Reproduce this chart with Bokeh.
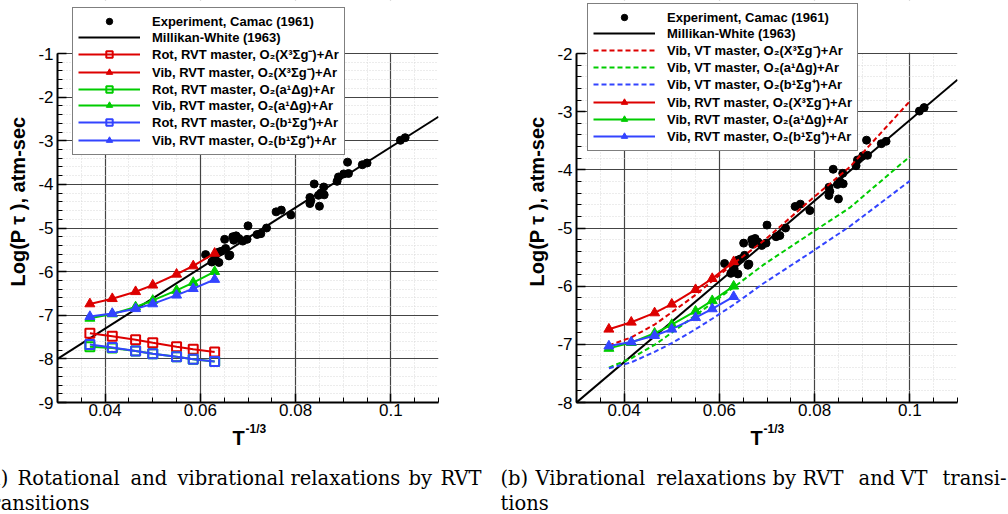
from bokeh.plotting import figure
from bokeh.layouts import row, column
from bokeh.models import (Range1d, Legend, LegendItem, FixedTicker, BoxAnnotation,
                          CustomJSTickFormatter)
from bokeh.core.properties import value
from bokeh.embed import file_html
from bokeh.resources import INLINE

# ---------------- data ----------------
# T^(-1/3) of the RVT master-equation temperatures
x_rvt = [0.0368, 0.0415, 0.0464, 0.0500, 0.0550, 0.0585, 0.0630]
rot_X = [-7.41, -7.48, -7.56, -7.63, -7.72, -7.78, -7.84]
vib_X = [-6.74, -6.62, -6.46, -6.31, -6.06, -5.87, -5.58]
rot_a = [-7.72, -7.75, -7.82, -7.88, -7.95, -8.01, -8.06]
vib_a = [-7.07, -6.97, -6.81, -6.66, -6.43, -6.25, -6.00]
rot_b = [-7.67, -7.74, -7.82, -7.88, -7.95, -8.01, -8.06]
vib_b = [-7.03, -6.96, -6.85, -6.74, -6.54, -6.39, -6.18]

# VT master-equation results
x_vt = [0.0368, 0.0415, 0.0464, 0.0500, 0.0550, 0.0585, 0.0630, 0.0693, 0.0794, 0.0874, 0.1000]
vt_X = [-7.02, -6.88, -6.66, -6.45, -6.15, -5.91, -5.61, -5.22, -4.50, -3.95, -2.82]
vt_a = [-7.40, -7.24, -7.01, -6.80, -6.50, -6.29, -6.02, -5.63, -5.08, -4.65, -3.77]
vt_b = [-7.41, -7.31, -7.13, -6.98, -6.74, -6.56, -6.32, -5.95, -5.41, -4.97, -4.19]

# Millikan-White correlation
mw_x = [0.03, 0.11]
mw_y = [-8.0, -2.45]

# Experiment, Camac (1961)
exp_x = [0.0611, 0.0624, 0.0628, 0.0631, 0.0639, 0.0639, 0.0645, 0.0653, 0.0660,
         0.0651, 0.0662, 0.0668, 0.0675, 0.0670, 0.0681, 0.0689, 0.0698, 0.0700,
         0.0719, 0.0727, 0.0739, 0.0759, 0.0770, 0.0790, 0.0830, 0.0830, 0.0832,
         0.0839, 0.0848, 0.0850, 0.0853, 0.0859, 0.0860, 0.0887, 0.0890, 0.0901,
         0.0911, 0.0909, 0.0940, 0.0950, 0.1020, 0.1030]
exp_y = [-5.61, -5.78, -5.74, -5.70, -5.79, -5.55, -5.53, -5.47, -5.64,
         -5.26, -5.62, -5.20, -5.18, -5.28, -5.24, -5.30, -5.26, -4.95,
         -5.15, -5.13, -5.00, -4.63, -4.59, -4.70, -4.30, -4.44, -4.37,
         -3.99, -4.25, -4.50, -4.20, -4.06, -4.24, -3.93, -3.83, -3.76,
         -3.75, -3.49, -3.55, -3.51, -2.99, -2.93]

x_ticks = [0.04, 0.06, 0.08, 0.1]

lbl_exp = "Experiment, Camac (1961)"
lbl_mw = "Millikan-White (1963)"
sp_X = "O₂(X³Σg⁻)+Ar"
sp_a = "O₂(a¹Δg)+Ar"
sp_b = "O₂(b¹Σg⁺)+Ar"
y_title = "Log(P τ ), atm-sec"
x_title = ["T", "-1/3"]

# sub-captions, word by word (justified lines)
cap_a1 = ["(a)", "Rotational", "and", "vibrational", "relaxations", "by", "RVT"]
cap_a2 = ["transitions"]
cap_b1 = ["(b)", "Vibrational", "relaxations", "by", "RVT", "and", "VT", "transi-"]
cap_b2 = ["tions"]

# ---------------- style / layout ----------------
RED, GREEN, BLUE = "#dd0000", "#00cc00", "#3344ff"
FONT = "Liberation Sans"
SERIF = "DejaVu Serif"
TOP_H = 422          # height of the two plot figures
FRAME_TOP = 53       # page y of the upper data limit
FRAME_BOT = 402      # page y of the lower data limit
# word start positions (page px) for the justified caption lines
pos_a1 = [-19, 17, 130, 177, 290, 408, 440]
pos_b1 = [500, 535, 656, 772, 802, 858, 900, 942]
CAP_Y1, CAP_Y2 = 478, 503
T_Y, SUP_Y = 437, 428


def base_fig(width, left, right, ymin, ymax):
    ppu = (FRAME_BOT - FRAME_TOP) / (ymax - ymin)
    y_top = ymax + FRAME_TOP / ppu          # leave room above for the legend
    p = figure(width=width, height=TOP_H, output_backend="svg", toolbar_location=None,
               title=None,
               x_range=Range1d(0.03, 0.11), y_range=Range1d(ymin, y_top),
               min_border_left=left, min_border_right=right,
               min_border_top=0, min_border_bottom=TOP_H - FRAME_BOT)
    p.outline_line_color = None
    fmt = CustomJSTickFormatter(code="return String(Math.round(tick*1000)/1000)")
    xt = FixedTicker(ticks=x_ticks,
                     minor_ticks=[round(0.03 + 0.005 * i, 4) for i in range(17)])
    yt = FixedTicker(ticks=list(range(ymin, ymax + 1)),
                     minor_ticks=[round(ymin + 0.2 * i, 2) for i in range((ymax - ymin) * 5 + 1)])
    p.xaxis.ticker = xt
    p.yaxis.ticker = yt
    p.xgrid.ticker = xt
    p.ygrid.ticker = yt
    p.yaxis.bounds = (ymin, ymax)
    for ax in (p.xaxis[0], p.yaxis[0]):
        ax.formatter = fmt
        ax.axis_line_width = 2
        ax.axis_line_color = "black"
        ax.major_tick_in = 9
        ax.major_tick_out = 0
        ax.minor_tick_in = 5
        ax.minor_tick_out = 0
        ax.major_tick_line_width = 1.5
        ax.minor_tick_line_width = 1
        ax.major_tick_line_color = "black"
        ax.minor_tick_line_color = "black"
        ax.major_label_text_font = FONT
        ax.major_label_text_font_size = "17px"
        ax.major_label_text_color = "black"
    p.xaxis.major_label_standoff = 1
    p.yaxis.major_label_standoff = 4
    p.yaxis.axis_label = y_title
    p.yaxis.axis_label_text_font = FONT
    p.yaxis.axis_label_text_font_style = "bold"
    p.yaxis.axis_label_text_font_size = "20px"
    p.yaxis.axis_label_text_color = "black"
    p.yaxis.axis_label_standoff = 6
    for g in (p.xgrid[0], p.ygrid[0]):
        g.grid_line_color = "#444444"
        g.grid_line_width = 1.2
        g.minor_grid_line_color = "#d8d8d8"
        g.minor_grid_line_dash = "1 2"
        g.minor_grid_line_width = 1
    # blank out the grid above the upper data limit (legend space)
    p.add_layout(BoxAnnotation(bottom=ymax + 0.8 / ppu, fill_color="white", fill_alpha=1,
                               line_color=None, level="underlay"))
    return p


def style_legend(lg):
    lg.label_text_font = FONT
    lg.label_text_font_style = "bold"
    lg.label_text_font_size = "13px"
    lg.label_text_color = "black"
    lg.glyph_width = 62
    lg.glyph_height = 16
    lg.label_height = 16
    lg.spacing = 0
    lg.padding = 5
    lg.margin = 0
    lg.label_standoff = 12
    lg.border_line_color = "black"
    lg.border_line_width = 1
    lg.background_fill_alpha = 1


# ---------------- left panel ----------------
p1 = base_fig(500, 57, 62, -9, -1)
mw1 = p1.line(mw_x, mw_y, line_color="black", line_width=2)
ex1 = p1.scatter(exp_x, exp_y, marker="circle", size=8, color="black")
items1 = [LegendItem(label=lbl_exp, renderers=[ex1]),
          LegendItem(label=lbl_mw, renderers=[mw1])]
for ys, col, mk, kind, sp in [(rot_X, RED, "square", "Rot", sp_X),
                              (vib_X, RED, "triangle", "Vib", sp_X),
                              (rot_a, GREEN, "square", "Rot", sp_a),
                              (vib_a, GREEN, "triangle", "Vib", sp_a),
                              (rot_b, BLUE, "square", "Rot", sp_b),
                              (vib_b, BLUE, "triangle", "Vib", sp_b)]:
    ln = p1.line(x_rvt, ys, line_color=col, line_width=2)
    if mk == "square":
        mr = p1.scatter(x_rvt, ys, marker="square", size=9, fill_color=None,
                        line_color=col, line_width=2)
    else:
        mr = p1.scatter(x_rvt, ys, marker="triangle", size=10, fill_color=col,
                        line_color=col, line_width=1)
    items1.append(LegendItem(label=f"{kind}, RVT master, {sp}", renderers=[ln, mr]))
lg1 = Legend(items=items1, location=(15, FRAME_BOT - 155))
style_legend(lg1)
p1.add_layout(lg1)

# ---------------- right panel ----------------
p2 = base_fig(508, 76, 51, -8, -2)
mw2 = p2.line(mw_x, mw_y, line_color="black", line_width=2)
ex2 = p2.scatter(exp_x, exp_y, marker="circle", size=8, color="black")
items2 = [LegendItem(label=lbl_exp, renderers=[ex2]),
          LegendItem(label=lbl_mw, renderers=[mw2])]
for ys, col, sp in [(vt_X, RED, sp_X), (vt_a, GREEN, sp_a), (vt_b, BLUE, sp_b)]:
    ln = p2.line(x_vt, ys, line_color=col, line_width=2, line_dash="5 3")
    items2.append(LegendItem(label=f"Vib, VT master, {sp}", renderers=[ln]))
for ys, col, sp in [(vib_X, RED, sp_X), (vib_a, GREEN, sp_a), (vib_b, BLUE, sp_b)]:
    ln = p2.line(x_rvt, ys, line_color=col, line_width=2)
    mr = p2.scatter(x_rvt, ys, marker="triangle", size=10, fill_color=col,
                    line_color=col, line_width=1)
    items2.append(LegendItem(label=f"Vib, RVT master, {sp}", renderers=[ln, mr]))
lg2 = Legend(items=items2, location=(11, FRAME_BOT - 151))
style_legend(lg2)
p2.add_layout(lg2)

# ---------------- bottom strip: axis titles and sub-captions ----------------
p3 = figure(width=1008, height=514 - TOP_H, output_backend="svg", toolbar_location=None,
            title=None,
            x_range=Range1d(0, 1008), y_range=Range1d(514, TOP_H),
            x_axis_type=None, y_axis_type=None,
            min_border_left=0, min_border_right=0, min_border_top=0, min_border_bottom=0)
p3.outline_line_color = None
p3.grid.visible = False
# "T" and its superscript under each plot
p3.text(x=[232, 750], y=[T_Y, T_Y], text=[x_title[0]] * 2, text_font=value(FONT),
        text_font_style="bold", text_font_size="20px", text_baseline="alphabetic",
        text_color="black")
p3.text(x=[245, 763], y=[SUP_Y, SUP_Y], text=[x_title[1]] * 2, text_font=value(FONT),
        text_font_style="bold", text_font_size="12px", text_baseline="alphabetic",
        text_color="black")
cap_words = cap_a1 + cap_a2 + cap_b1 + cap_b2
cap_x = pos_a1 + [-17] + pos_b1 + [500]
cap_y = [CAP_Y1] * len(cap_a1) + [CAP_Y2] + [CAP_Y1] * len(cap_b1) + [CAP_Y2]
p3.text(x=cap_x, y=cap_y, text=cap_words, text_font=value(SERIF),
        text_font_size="19.5px", text_baseline="alphabetic", text_color="black")

layout = column(row(p1, p2), p3)
open("out.html", "w").write(file_html(layout, INLINE))
